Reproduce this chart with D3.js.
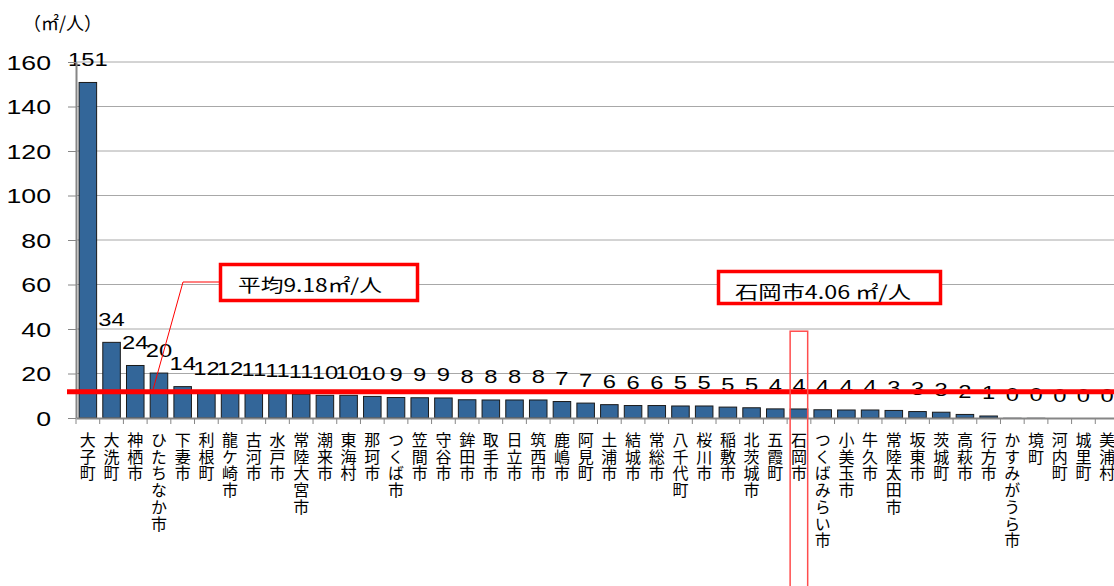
<!DOCTYPE html>
<html>
<head>
<meta charset="utf-8">
<script src="https://cdn.jsdelivr.net/npm/d3@7"></script>
<style>
  body { margin: 0; background: #fff; }
  svg { display: block; }
  .num { font-family: "Liberation Sans", Arial, sans-serif; fill: #000; }
  .jp { font-family: "Noto Sans CJK JP", sans-serif; fill: #000; }
  .vert { writing-mode: vertical-rl; text-orientation: upright; }
</style>
</head>
<body>
<div id="chart"></div>
<script>
// 市町村別 一人当たり公園面積（㎡/人）
var cities = ["大子町", "大洗町", "神栖市", "ひたちなか市", "下妻市", "利根町", "龍ケ崎市", "古河市",
  "水戸市", "常陸大宮市", "潮来市", "東海村", "那珂市", "つくば市", "笠間市", "守谷市",
  "鉾田市", "取手市", "日立市", "筑西市", "鹿嶋市", "阿見町", "土浦市", "結城市",
  "常総市", "八千代町", "桜川市", "稲敷市", "北茨城市", "五霞町", "石岡市", "つくばみらい市",
  "小美玉市", "牛久市", "常陸太田市", "坂東市", "茨城町", "高萩市", "行方市", "かすみがうら市",
  "境町", "河内町", "城里町", "美浦村"];
var values = [150.8, 34.0, 23.6, 20.2, 14.1, 12.0, 11.7, 11.3,
  11.0, 10.7, 10.2, 10.2, 9.7, 9.2, 9.1, 9.0,
  8.2, 8.1, 8.1, 8.1, 7.4, 6.7, 6.0, 5.6,
  5.6, 5.4, 5.4, 4.9, 4.6, 4.1, 4.06, 3.7,
  3.6, 3.6, 3.4, 2.9, 2.6, 1.6, 0.9, 0.2,
  0.2, 0, 0, 0];
var yTicks = [0, 20, 40, 60, 80, 100, 120, 140, 160];
var unitLabel = "（㎡/人）";

// annotations
var avgLabel = "平均9.18㎡/人";
var avgLineLevel = 11.8;   // level where the red line sits in the figure
var focusCity = "石岡市";
var focusLabel = "石岡市4.06 ㎡/人";
var focusTop = 39;

var svgWidth = 1114;
var svgHeight = 586;

var svg = d3.select("#chart")
  .append("svg")
  .attr("width", svgWidth)
  .attr("height", svgHeight);

var data = cities.map(function(c, i) { return {city: c, value: values[i]}; });

var x = d3.scaleBand()
  .domain(cities)
  .range([76, 1119])
  .paddingInner(0.26)
  .paddingOuter(0.13);

var y = d3.scaleLinear()
  .domain([0, 160])
  .range([418, 62]);

var step = x.step();
var bandLeft = function(c) { return 76 + cities.indexOf(c) * step; };

// gridlines
svg.append("g")
  .selectAll("line")
  .data(yTicks.filter(function(t) { return t > 0; }))
  .enter()
  .append("line")
  .attr("x1", 76)
  .attr("x2", svgWidth)
  .attr("y1", function(d) { return y(d); })
  .attr("y2", function(d) { return y(d); })
  .attr("stroke", "#a8a8a8")
  .attr("stroke-width", 1);

// bars
svg.append("g")
  .selectAll("rect")
  .data(data.filter(function(d) { return d.value > 0; }))
  .enter()
  .append("rect")
  .attr("x", function(d) { return x(d.city); })
  .attr("y", function(d) { return y(d.value); })
  .attr("width", x.bandwidth())
  .attr("height", function(d) { return y(0) - y(d.value); })
  .attr("fill", "#336699")
  .attr("stroke", function(d) { return d.value < 0.5 ? "#c8c8c8" : "#1a1a1a"; })
  .attr("stroke-width", 1);

// value labels
var fmt = d3.format(".0f");
svg.append("g")
  .selectAll("text")
  .data(data)
  .enter()
  .append("text")
  .attr("class", "num")
  .attr("text-anchor", "middle")
  .attr("font-size", 19)
  .attr("transform", function(d) {
    return "translate(" + (x(d.city) + x.bandwidth() / 2) + "," + (y(d.value) - 16.5) + ") scale(1.25,1)";
  })
  .text(function(d) { return fmt(d.value); });

// y axis
var yAxis = svg.append("g")
  .attr("transform", "translate(76,0)")
  .call(d3.axisLeft(y).tickValues(yTicks).tickSize(8).tickSizeOuter(0));
yAxis.select(".domain").attr("stroke", "#868686").attr("stroke-width", 2);
yAxis.selectAll(".tick line").attr("stroke", "#868686");
yAxis.selectAll(".tick text")
  .attr("class", "num")
  .attr("x", 0)
  .attr("dy", null)
  .attr("font-size", 21)
  .attr("transform", "translate(-25,7) scale(1.27,1)");

// x axis
var xAxis = svg.append("g")
  .attr("transform", "translate(0,418)")
  .call(d3.axisBottom(x).tickSize(0).tickSizeOuter(0).tickFormat(""));
xAxis.select(".domain").attr("stroke", "#868686").attr("stroke-width", 2);

svg.append("g")
  .selectAll("line")
  .data(cities)
  .enter()
  .append("line")
  .attr("x1", function(d) { return bandLeft(d); })
  .attr("x2", function(d) { return bandLeft(d); })
  .attr("y1", 419)
  .attr("y2", 424)
  .attr("stroke", "#868686")
  .attr("stroke-width", 1);

// vertical category labels
svg.append("g")
  .selectAll("text")
  .data(cities)
  .enter()
  .append("text")
  .attr("class", "jp vert")
  .attr("font-size", 16)
  .attr("letter-spacing", 0.7)
  .attr("x", function(d) { return x(d) + x.bandwidth() / 2; })
  .attr("y", 432)
  .text(function(d) { return d; });

// unit label
svg.append("text")
  .attr("class", "jp")
  .attr("x", 23)
  .attr("y", 30)
  .attr("font-size", 18)
  .text(unitLabel);

// average line
svg.append("line")
  .attr("x1", 67)
  .attr("x2", svgWidth)
  .attr("y1", y(avgLineLevel))
  .attr("y2", y(avgLineLevel))
  .attr("stroke", "#ff0000")
  .attr("stroke-width", 5);

// callout: average
svg.append("polyline")
  .attr("points", [[220, 282], [183, 282], [153, y(avgLineLevel) - 2]].map(function(p) { return p.join(","); }).join(" "))
  .attr("fill", "none")
  .attr("stroke", "#ff0000")
  .attr("stroke-width", 1);

svg.append("rect")
  .attr("x", 220.5)
  .attr("y", 264.5)
  .attr("width", 197)
  .attr("height", 36)
  .attr("fill", "#fff")
  .attr("stroke", "#ff0000")
  .attr("stroke-width", 3.5);

svg.append("text")
  .attr("class", "jp")
  .attr("x", 238)
  .attr("y", 292)
  .attr("font-size", 18)
  .attr("textLength", 144)
  .attr("lengthAdjust", "spacingAndGlyphs")
  .text(avgLabel);

// callout: focus city
svg.append("rect")
  .attr("x", bandLeft(focusCity) + 3)
  .attr("y", y(focusTop))
  .attr("width", x.bandwidth())
  .attr("height", svgHeight - y(focusTop) + 5)
  .attr("fill", "none")
  .attr("stroke", "#ff4d4d")
  .attr("stroke-width", 1.5);

svg.append("rect")
  .attr("x", 718.5)
  .attr("y", 271.5)
  .attr("width", 222)
  .attr("height", 32)
  .attr("fill", "#fff")
  .attr("stroke", "#ff0000")
  .attr("stroke-width", 3.5);

svg.append("text")
  .attr("class", "jp")
  .attr("x", 735)
  .attr("y", 298.5)
  .attr("font-size", 18)
  .attr("textLength", 176)
  .attr("lengthAdjust", "spacingAndGlyphs")
  .text(focusLabel);
</script>
</body>
</html>
